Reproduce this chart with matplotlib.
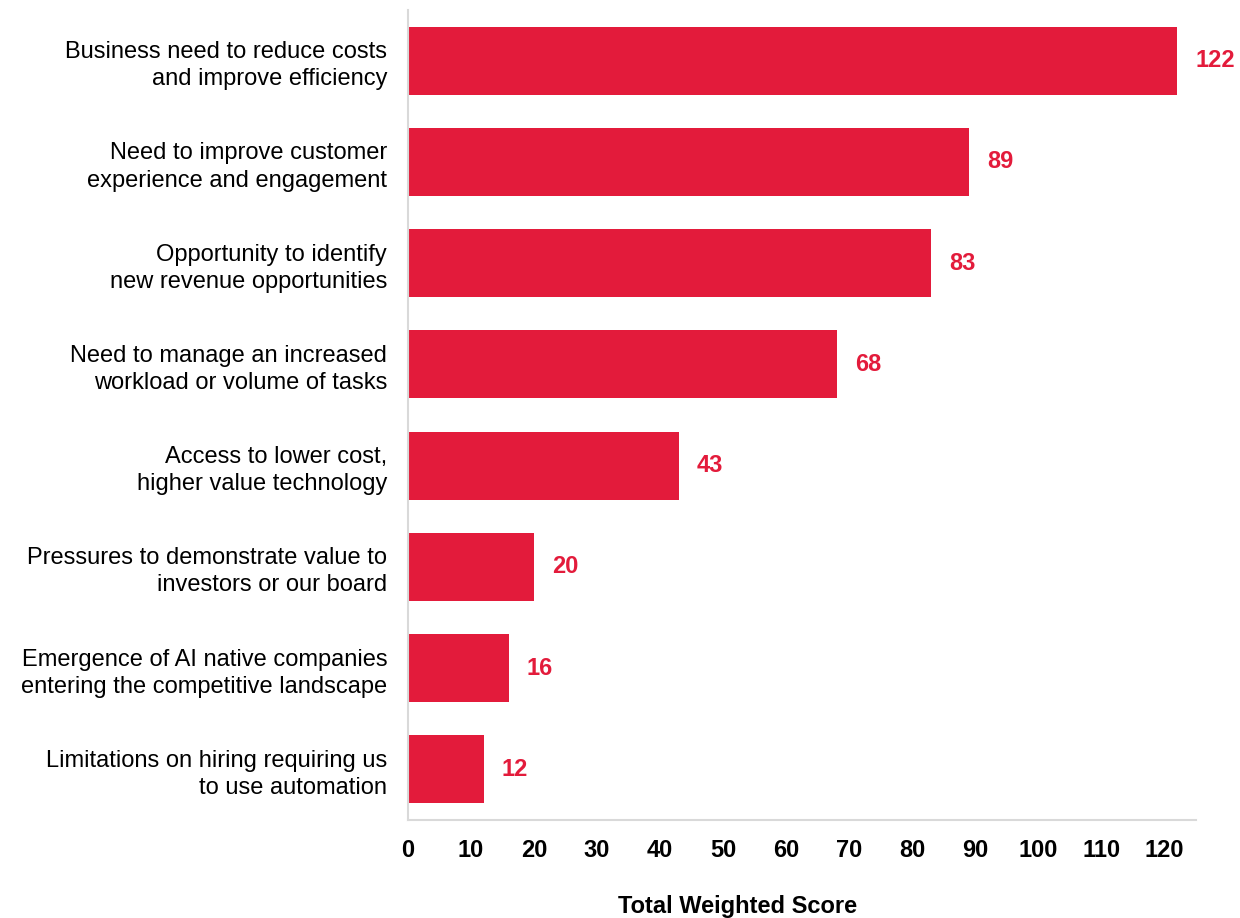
import matplotlib
matplotlib.use('Agg')
import matplotlib.pyplot as plt

plt.rcParams['font.family'] = ['Liberation Sans', 'DejaVu Sans']

# Drivers of adoption and their weighted scores
drivers = [
    'Business need to reduce costs\nand improve efficiency',
    'Need to improve customer\nexperience and engagement',
    'Opportunity to identify\nnew revenue opportunities',
    'Need to manage an increased\nworkload or volume of tasks',
    'Access to lower cost,\nhigher value technology',
    'Pressures to demonstrate value to\ninvestors or our board',
    'Emergence of AI native companies\nentering the competitive landscape',
    'Limitations on hiring requiring us\nto use automation',
]
scores = [122, 89, 83, 68, 43, 20, 16, 12]
xticks = list(range(0, 121, 10))

RED = '#E31B3B'
GREY = '#D9D9D9'
FS = 17

fig = plt.figure(figsize=(12.4, 9.18), dpi=100)
ax = fig.add_axes([0.329, 0.1068, 0.6355, 0.8822])

ypos = range(len(drivers))
ax.barh(ypos, scores, height=0.67, color=RED)

for y, v in zip(ypos, scores):
    ax.annotate(str(v), xy=(v, y), xytext=(13, 0), textcoords='offset points',
                va='center', ha='left', color=RED, fontsize=FS, fontweight='bold')

ax.set_yticks(list(ypos))
ax.set_yticklabels(drivers, fontsize=FS, ha='right', linespacing=1.3)
ax.set_ylim(len(drivers) - 0.5, -0.5)
ax.set_xlim(0, 125)
ax.set_xticks(xticks)
ax.set_xticklabels([str(t) for t in xticks], fontsize=FS, fontweight='bold')
ax.tick_params(axis='both', length=0)
ax.tick_params(axis='x', pad=14)
ax.tick_params(axis='y', pad=15)

fig.text(0.595, 1 - 906 / 918, 'Total Weighted Score', fontsize=FS,
         fontweight='bold', ha='center', va='center')

for side in ('top', 'right'):
    ax.spines[side].set_visible(False)
for side in ('left', 'bottom'):
    ax.spines[side].set_color(GREY)
    ax.spines[side].set_linewidth(1.5)

fig.savefig('out.png', dpi=100)
